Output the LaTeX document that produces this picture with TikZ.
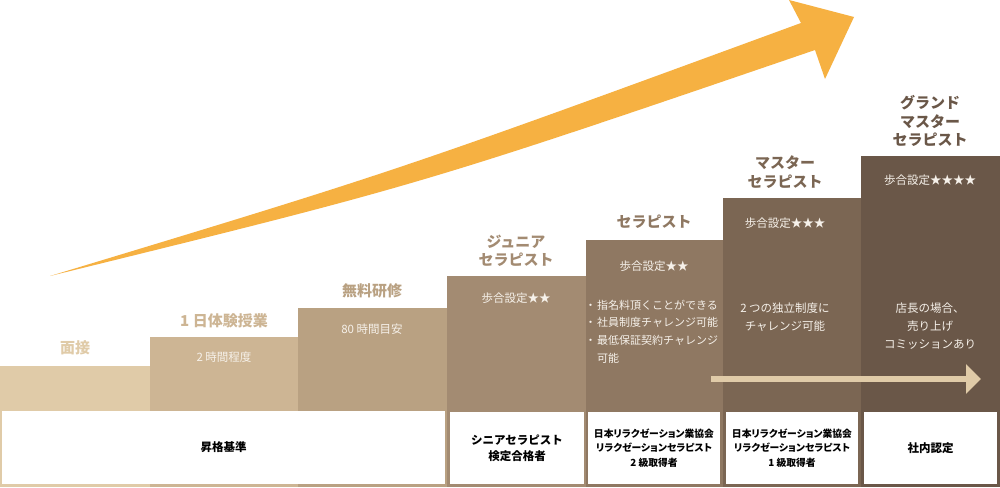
\documentclass[tikz,border=0pt]{standalone}
\usepackage{fontspec}
\setmainfont{Noto Sans CJK JP}
\newfontfamily\jpp{Noto Sans CJK JP}[RawFeature=+palt]
\usetikzlibrary{arrows.meta}
\definecolor{cA}{HTML}{E0CBA8}
\definecolor{cB}{HTML}{CDB594}
\definecolor{cC}{HTML}{B9A182}
\definecolor{cD}{HTML}{A38B72}
\definecolor{cE}{HTML}{8F7862}
\definecolor{cF}{HTML}{7B6653}
\definecolor{cG}{HTML}{6A5748}
\definecolor{cArrow}{HTML}{F6B142}
\definecolor{cInner}{HTML}{F6F1EA}
\tikzset{
  title/.style={font=\fontsize{15}{18.5}\selectfont\bfseries, align=center, inner sep=0pt},
  inner/.style={font=\fontsize{11.5}{18}\selectfont, text=cInner, align=center, inner sep=0pt},
  critbox/.style={fill=white, inner sep=0pt, align=center, text=black,
    font=\fontsize{11.5}{16}\selectfont\bfseries},
  critsmall/.style={font=\fontsize{9.8}{14.2}\selectfont\bfseries\jpp},
}
\begin{document}
\begin{tikzpicture}[x=1pt,y=-1pt]
\useasboundingbox (0,0) rectangle (1000,487);
\fill[white] (0,0) rectangle (1000,487);
% big orange arrow
\fill[cArrow] (50,276) .. controls (400,170) .. (801,23) -- (789,0) -- (854,17) -- (825,79) -- (815,50) .. controls (420,185) .. (50,276) -- cycle;
% steps
\fill[cA] (0,366) rectangle (150,487);
\fill[cB] (150,337) rectangle (298,487);
\fill[cC] (298,308) rectangle (447,487);
\fill[cD] (447,276) rectangle (586,487);
\fill[cE] (586,240) rectangle (723,487);
\fill[cF] (723,198) rectangle (861,487);
\fill[cG] (861,156) rectangle (1000,487);
% criteria boxes
\node[critbox, minimum width=443pt, minimum height=73pt] (k1) at (223.5,447.5) {昇格基準};
\node[critbox, minimum width=134pt, minimum height=72pt] (k4) at (517,448) {シニアセラピスト\\検定合格者};
\node[critbox, critsmall, minimum width=132pt, minimum height=72pt] (k5) at (654,448) {日本リラクゼーション業協会\\リラクゼーションセラピスト\\2 級取得者};
\node[critbox, critsmall, minimum width=132pt, minimum height=72pt] (k6) at (792,448) {日本リラクゼーション業協会\\リラクゼーションセラピスト\\1 級取得者};
\node[critbox, minimum width=133pt, minimum height=72pt] (k7) at (930.5,448) {社内認定};
% small arrow
\coordinate (sa) at (711,379);
\coordinate (sb) at (981,379);
\draw[cA, line width=6.5pt, -{Triangle[length=15pt,width=29pt]}] (sa) -- (sb);
% titles
\node[title, text=cA] (t1) at (75,348) {面接};
\node[title, text=cB] (t2) at (224,321) {1 日体験授業};
\node[title, text=cC] (t3) at (372,291) {無料研修};
\node[title, text=cD] (t4) at (516,251) {ジュニア\\セラピスト};
\node[title, text=cE] (t5) at (654,222) {セラピスト};
\node[title, text=cF] (t6) at (785,172) {マスター\\セラピスト};
\node[title, text=cG] (t7) at (930,121) {グランド\\マスター\\セラピスト};
% inner texts
\node[inner] (i2) at (224,357) {2 時間程度};
\node[inner] (i3) at (372,329) {80 時間目安};
\node[inner] (i4) at (516,298) {歩合設定★★};
\node[inner] (i5) at (654,266) {歩合設定★★};
\node[inner, font=\fontsize{11}{17.8}\selectfont, align=left, anchor=north west] (i5b) at (584,299.5) {\makebox[13pt][c]{・}指名料頂くことができる\\\makebox[13pt][c]{・}社員制度チャレンジ可能\\\makebox[13pt][c]{・}最低保証契約チャレンジ\\\makebox[13pt][c]{}可能};
\node[inner] (i6) at (785,223) {歩合設定★★★};
\node[inner] (i6b) at (785,317) {2 つの独立制度に\\チャレンジ可能};
\node[inner] (i7) at (930,180) {歩合設定★★★★};
\node[inner] (i7b) at (930,326) {店長の場合、\\売り上げ\\コミッションあり};
\end{tikzpicture}
\end{document}
